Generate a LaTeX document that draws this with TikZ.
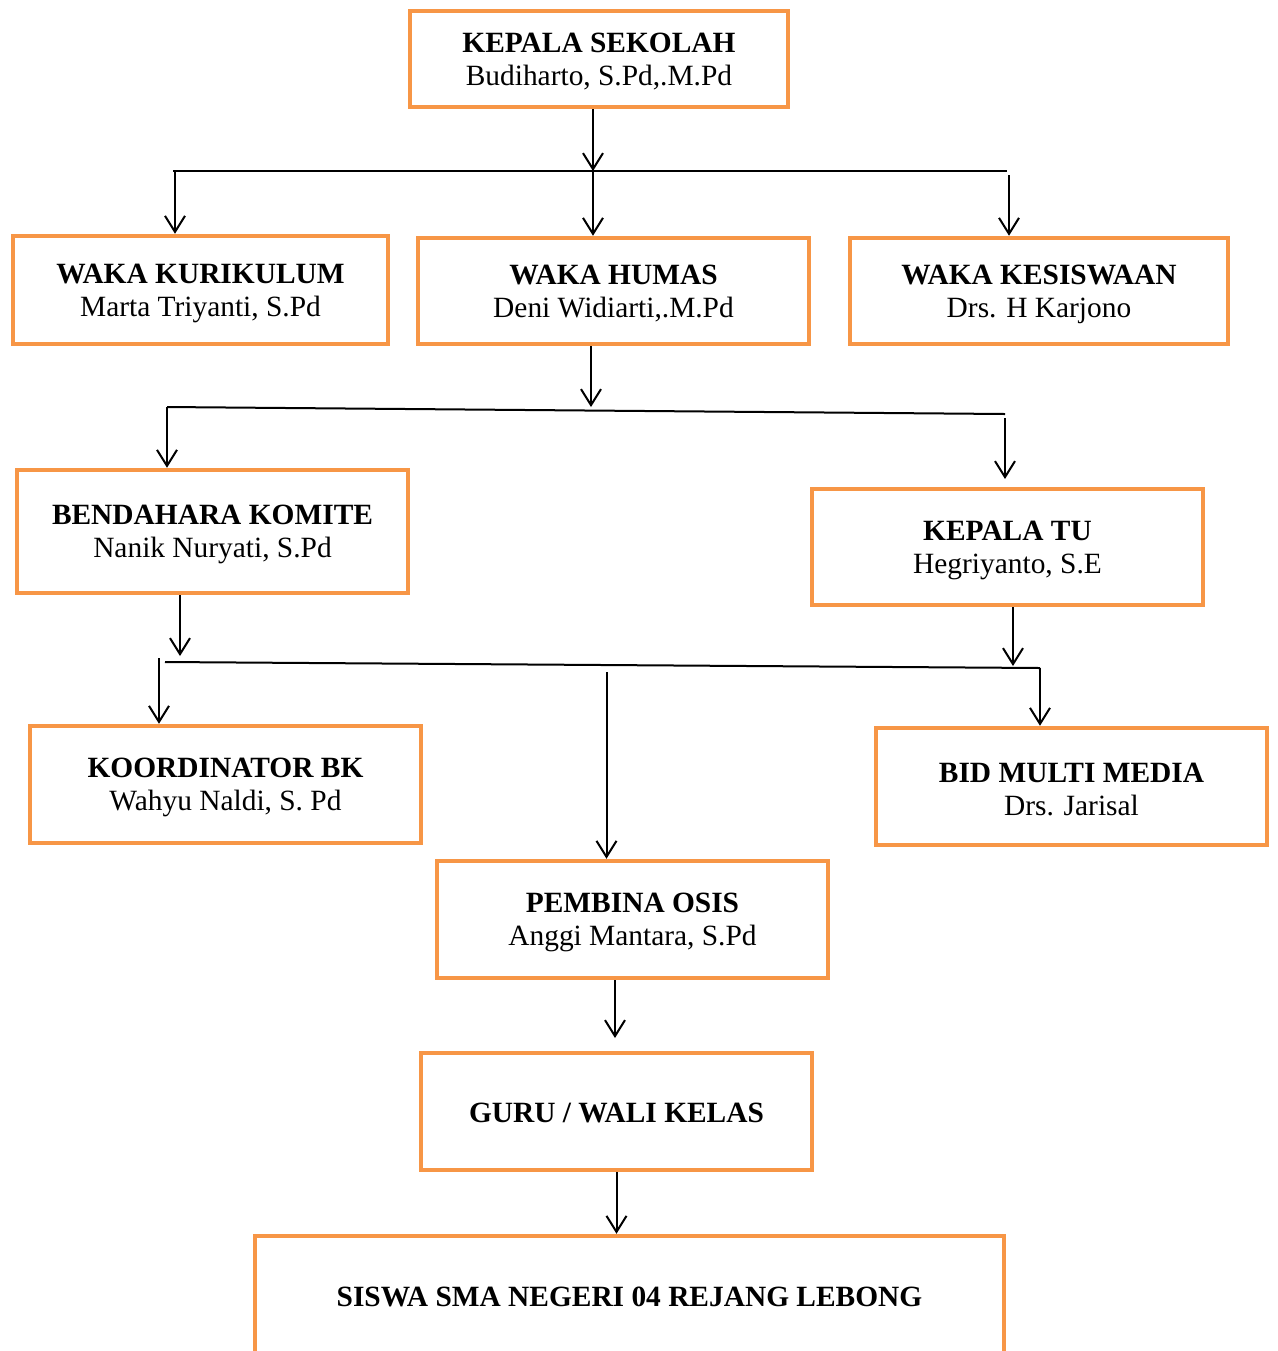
\documentclass[tikz,border=0pt]{standalone}
\usepackage{fontspec}
\setmainfont{Liberation Serif}
\usetikzlibrary{arrows.meta}
\definecolor{boxorange}{HTML}{F79646}
\newcommand{\topstrut}{\rule{0pt}{12.7pt}}
\begin{document}
\begin{tikzpicture}[x=0.5pt,y=-0.5pt,
  orgbox/.style={draw=boxorange, line width=2.25pt, rectangle, inner sep=0pt,
    align=center, font=\fontsize{14.7}{16.5}\selectfont},
  conn/.style={line width=1pt, black},
  arr/.style={conn, -{Straight Barb[length=8pt,width=10pt,line width=1pt]}}]
\useasboundingbox (0,0) rectangle (1278,1351);
% boxes
\node[orgbox, minimum width=189pt, minimum height=48pt] (kepala) at (599,59) {\topstrut\textbf{KEPALA SEKOLAH}\\Budiharto, S.Pd,.M.Pd};
\node[orgbox, minimum width=187.5pt, minimum height=54pt] (kuri) at (200.5,290) {\topstrut\textbf{WAKA KURIKULUM}\\Marta Triyanti, S.Pd};
\node[orgbox, minimum width=195.5pt, minimum height=53pt] (humas) at (613.5,291) {\topstrut\textbf{WAKA HUMAS}\\Deni Widiarti,.M.Pd};
\node[orgbox, minimum width=189pt, minimum height=53pt] (kesis) at (1039,291) {\topstrut\textbf{WAKA KESISWAAN}\\Drs. H Karjono};
\node[orgbox, minimum width=195.5pt, minimum height=61.5pt] (bendahara) at (212.5,531.5) {\topstrut\textbf{BENDAHARA KOMITE}\\Nanik Nuryati, S.Pd};
\node[orgbox, minimum width=195.5pt, minimum height=58pt] (tu) at (1007.5,547) {\topstrut\textbf{KEPALA TU}\\Hegriyanto, S.E};
\node[orgbox, minimum width=195.5pt, minimum height=58.5pt] (bk) at (225.5,784.5) {\topstrut\textbf{KOORDINATOR BK}\\Wahyu Naldi, S. Pd};
\node[orgbox, minimum width=195.5pt, minimum height=58.5pt] (media) at (1071.5,786.5) {\topstrut\textbf{BID MULTI MEDIA}\\Drs. Jarisal};
\node[orgbox, minimum width=195.5pt, minimum height=58.5pt] (osis) at (632.5,919.5) {\topstrut\textbf{PEMBINA OSIS}\\Anggi Mantara, S.Pd};
\node[orgbox, minimum width=195.5pt, minimum height=58.5pt] (guru) at (616.5,1111.5) {\rule{0pt}{11.7pt}\textbf{GURU / WALI KELAS}};
\node[orgbox, minimum width=374.5pt, minimum height=61pt] (siswa) at (629.5,1297) {\textbf{SISWA SMA NEGERI 04 REJANG LEBONG}};
% coordinates
\coordinate (j1) at (593,171);
\coordinate (h1L) at (173,171);
\coordinate (h1R) at (1007,171);
\coordinate (k1) at (175,171);
\coordinate (k3) at (1009,175);
\coordinate (j2) at (591,407);
\coordinate (h2L) at (167,407);
\coordinate (h2R) at (1005,414);
\coordinate (k4) at (1005,418);
\coordinate (e4) at (1005,479);
\coordinate (j3) at (180,656);
\coordinate (h3L) at (165,662);
\coordinate (h3R) at (1040,668);
\coordinate (k5) at (159,658);
\coordinate (k6) at (606.5,672);
\coordinate (j4) at (1013,666);
\coordinate (e5) at (615,1038);
% connectors level 1
\draw[arr] (kepala.south -| j1) -- (j1);
\draw[conn] (h1L) -- (h1R);
\draw[arr] (k1) -- (kuri.north -| k1);
\draw[arr] (j1) -- (humas.north -| j1);
\draw[arr] (k3) -- (kesis.north -| k3);
% level 2
\draw[arr] (humas.south -| j2) -- (j2);
\draw[conn] (h2L) -- (h2R);
\draw[arr] (h2L) -- (bendahara.north -| h2L);
\draw[arr] (k4) -- (e4);
% level 3
\draw[arr] (bendahara.south -| j3) -- (j3);
\draw[conn] (h3L) -- (h3R);
\draw[arr] (k5) -- (bk.north -| k5);
\draw[arr] (k6) -- (osis.north -| k6);
\draw[arr] (tu.south -| j4) -- (j4);
\draw[arr] (h3R) -- (media.north -| h3R);
% level 4
\draw[arr] (osis.south -| e5) -- (e5);
\draw[arr] (guru.south) -- (guru.south |- siswa.north);
\end{tikzpicture}
\end{document}
